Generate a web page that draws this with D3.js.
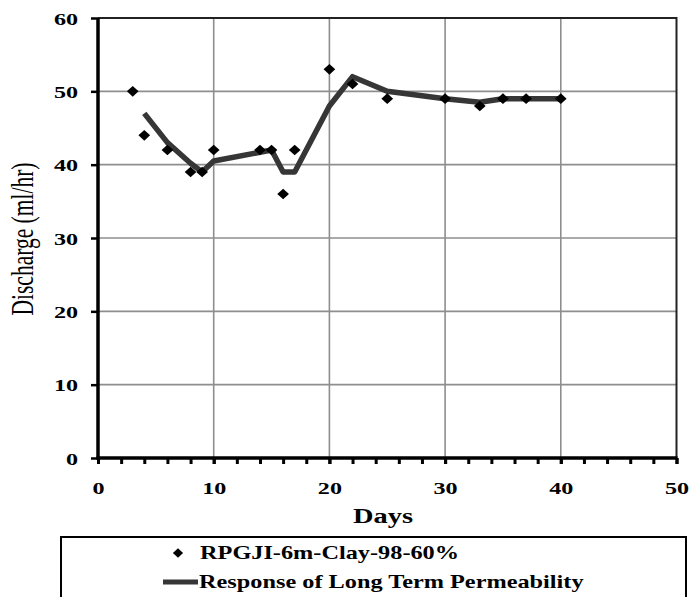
<!DOCTYPE html>
<html>
<head>
<meta charset="utf-8">
<script src="https://cdn.jsdelivr.net/npm/d3@7"></script>
<style>
  html, body { margin: 0; padding: 0; background: #fff; }
  svg { display: block; }
  svg text { font-family: "Liberation Serif", "Times New Roman", serif; fill: #000; }
</style>
</head>
<body>
<svg id="chart" width="690" height="597"></svg>
<script>
// Measured discharge (scatter)
const obsDays      = [3, 4, 6, 8, 9, 10, 14, 15, 16, 17, 20, 22, 25, 30, 33, 35, 37, 40];
const obsDischarge = [50, 44, 42, 39, 39, 42, 42, 42, 36, 42, 53, 51, 49, 49, 48, 49, 49, 49];

// Long-term permeability response (line)
const fitDays      = [4, 6, 8, 9, 10, 15, 16, 17, 20, 22, 25, 30, 33, 35, 37, 40];
const fitDischarge = [47, 43, 40.2, 39, 40.5, 42, 39, 39, 48, 52, 50, 49, 48.5, 49, 49, 49];

const xTicks = [0, 10, 20, 30, 40, 50];
const xMinorTicks = d3.range(0, 51, 2);
const yTicks = [0, 10, 20, 30, 40, 50, 60];

const seriesNames = ["RPGJI-6m-Clay-98-60%", "Response of Long Term Permeability"];

// Glyphs are drawn a little wide, as in the printed figure
const WIDE = 1.42;

const svg = d3.select("#chart");
const x = d3.scaleLinear().domain([0, 50]).range([98, 676.5]);
const y = d3.scaleLinear().domain([0, 60]).range([458, 18]);

// Grid
const grid = svg.append("g");
grid.selectAll("line.vg").data(xTicks.slice(1, -1)).join("line")
  .attr("x1", d => x(d)).attr("x2", d => x(d))
  .attr("y1", y(60)).attr("y2", y(0))
  .attr("stroke", "#8e8e8e").attr("stroke-width", 1.6);
grid.selectAll("line.hg").data(yTicks.slice(1, -1)).join("line")
  .attr("x1", x(0)).attr("x2", x(50))
  .attr("y1", d => y(d)).attr("y2", d => y(d))
  .attr("stroke", "#8e8e8e").attr("stroke-width", 1.6);

// Plot frame (top and right)
svg.append("path")
  .attr("d", `M${x(0)},${y(60)}H${x(50)}V${y(0)}`)
  .attr("fill", "none").attr("stroke", "#222").attr("stroke-width", 2);

// X axis
const xAxis = d3.axisBottom(x).tickValues(xTicks).tickSize(6).tickPadding(18);
const xAxisG = svg.append("g").attr("transform", `translate(0,${y(0)})`).call(xAxis)
  .attr("font-family", null).attr("font-size", null);
xAxisG.select(".domain").remove();
xAxisG.selectAll(".tick line").attr("stroke", "#000").attr("stroke-width", 3);
xAxisG.selectAll(".tick text")
  .attr("font-size", 17).attr("font-weight", "bold")
  .attr("transform", `scale(${WIDE},1)`);

const xMinor = d3.axisBottom(x).tickValues(xMinorTicks).tickSize(6).tickFormat("");
const xMinorG = svg.append("g").attr("transform", `translate(0,${y(0)})`).call(xMinor);
xMinorG.select(".domain").remove();
xMinorG.selectAll(".tick line").attr("stroke", "#000").attr("stroke-width", 3);

// Y axis
const yAxis = d3.axisLeft(y).tickValues(yTicks).tickSize(7).tickPadding(10);
const yAxisG = svg.append("g").attr("transform", `translate(${x(0)},0)`).call(yAxis)
  .attr("font-family", null).attr("font-size", null);
yAxisG.select(".domain").remove();
yAxisG.selectAll(".tick line").attr("stroke", "#000").attr("stroke-width", 2.5);
yAxisG.selectAll(".tick text")
  .attr("font-size", 17).attr("font-weight", "bold")
  .attr("x", -20 / WIDE).attr("dy", "0.36em")
  .attr("transform", `scale(${WIDE},1)`);

// Axis lines (heavier left and bottom)
svg.append("line").attr("x1", x(0)).attr("x2", x(0)).attr("y1", y(60)).attr("y2", y(0) + 1.5)
  .attr("stroke", "#000").attr("stroke-width", 3.5);
svg.append("line").attr("x1", x(0) - 1.5).attr("x2", x(50) + 1).attr("y1", y(0)).attr("y2", y(0))
  .attr("stroke", "#000").attr("stroke-width", 3.5);

// Axis titles
svg.append("text")
  .attr("transform", `translate(383,523) scale(${WIDE},1)`)
  .attr("text-anchor", "middle").attr("font-size", 20).attr("font-weight", "bold")
  .text("Days");
svg.append("text")
  .attr("transform", `translate(33,239) rotate(-90) scale(1,${WIDE})`)
  .attr("text-anchor", "middle").attr("font-size", 21.5)
  .text("Discharge (ml/hr)");

// Response line
const line = d3.line().x(d => x(d[0])).y(d => y(d[1]));
svg.append("path")
  .datum(d3.zip(fitDays, fitDischarge))
  .attr("d", line)
  .attr("fill", "none").attr("stroke", "#363636").attr("stroke-width", 5.5)
  .attr("stroke-linejoin", "round");

// Observed points
const diamond = d3.symbol().type(d3.symbolDiamond2).size(72);
svg.append("g").selectAll("path").data(d3.zip(obsDays, obsDischarge)).join("path")
  .attr("transform", d => `translate(${x(d[0])},${y(d[1])}) scale(1.1,1)`)
  .attr("d", diamond).attr("fill", "#000");

// Legend
const lg = svg.append("g");
lg.append("rect").attr("x", 61).attr("y", 537).attr("width", 625).attr("height", 80)
  .attr("fill", "#fff").attr("stroke", "#000").attr("stroke-width", 2);
lg.append("path").attr("transform", "translate(178,553) scale(1.1,1)")
  .attr("d", d3.symbol().type(d3.symbolDiamond2).size(55)).attr("fill", "#000");
lg.append("text").attr("transform", "translate(200,558.5) scale(1.35,1)")
  .attr("font-size", 18).attr("font-weight", "bold")
  .text(seriesNames[0]);
lg.append("line").attr("x1", 163).attr("x2", 198).attr("y1", 582).attr("y2", 582)
  .attr("stroke", "#363636").attr("stroke-width", 5);
lg.append("text").attr("transform", "translate(199,587.5) scale(1.35,1)")
  .attr("font-size", 18).attr("font-weight", "bold")
  .text(seriesNames[1]);
</script>
</body>
</html>
